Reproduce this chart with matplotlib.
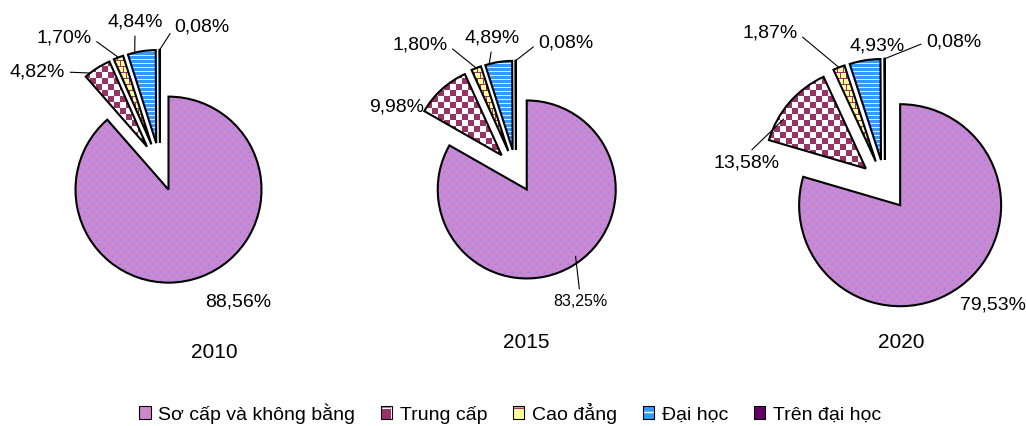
"""
Cơ cấu lao động theo trình độ chuyên môn: 2010 / 2015 / 2020.

Three exploded pies drawn on one pixel-sized axes, each wedge filled
with a small bitmap pattern (checker, brick, stripes...) clipped to it.

Output:
    out.png
"""

import matplotlib
matplotlib.use("Agg")
import matplotlib.pyplot as plt
import numpy as np
from matplotlib.patches import Patch

W, H = 1026, 426
FONT = ["Liberation Sans", "DejaVu Sans"]

categories = ["Sơ cấp và không bằng", "Trung cấp", "Cao đẳng", "Đại học", "Trên đại học"]
years = ["2010", "2015", "2020"]
share_2010 = [88.56, 4.82, 1.70, 4.84, 0.08]
share_2015 = [83.25, 9.98, 1.80, 4.89, 0.08]
share_2020 = [79.53, 13.58, 1.87, 4.93, 0.08]
shares = [share_2010, share_2015, share_2020]

# layout, in pixels measured from the top-left corner of the image
PIE_LAYOUT = [
    # centre x, centre y, radius, explode (fraction of radius)
    (160, 167, 93, 0.26),
    (516, 171, 89, 0.24),
    (885, 185, 101, 0.25),
]
YEAR_POS = [(214, 352), (526, 343), (901, 343)]

# (wedge index, text x, text y, fontsize, leader anchor or None)
# anchor = (fraction along the arc, fraction of radius, relpos on the text)
LABELS = [
    [
        (0, 238, 302, 14, None),
        (1, 37, 72, 14, (0.8, 1.0, (1.0, 0.5))),
        (2, 64, 38, 14, (0.5, 1.0, (1.0, 0.5))),
        (3, 135, 22, 14, (0.75, 1.0, (0.5, 0.0))),
        (4, 202, 27, 14, (0.5, 1.0, (0.0, 0.5))),
    ],
    [
        (0, 580, 302, 11.5, (0.52, 0.93, (0.5, 1.0))),
        (1, 397, 107, 14, None),
        (2, 420, 45, 14, (0.5, 1.0, (1.0, 0.5))),
        (3, 492, 38, 14, (0.85, 1.0, (0.5, 0.0))),
        (4, 566, 43, 14, (0.5, 1.0, (0.0, 0.5))),
    ],
    [
        (0, 993, 305, 14, None),
        (1, 747, 163, 14, (0.7, 0.95, (0.5, 1.0))),
        (2, 770, 33, 14, (0.5, 1.0, (1.0, 0.5))),
        (3, 877, 46, 14, None),
        (4, 954, 42, 14, (0.5, 1.0, (0.0, 0.5))),
    ],
]

MAROON = np.array([153, 51, 102], dtype=np.uint8)
WHITE = np.array([255, 255, 255], dtype=np.uint8)


def make_patterns():
    """Full-canvas bitmaps, one per category, so the texture lines up
    with screen pixels wherever the wedge ends up."""
    yy, xx = np.mgrid[0:H, 0:W]

    # pink/violet dither with blue diamond dots
    dither = ((xx + yy) % 2 == 0)[..., None]
    sc = np.where(dither, np.array([226, 136, 196], np.uint8),
                  np.array([184, 136, 214], np.uint8))
    a = (xx + yy) % 8
    b = (xx - yy) % 8
    dots = (np.minimum(a, 8 - a) <= 1) & (np.minimum(b, 8 - b) <= 1)
    sc[dots] = [140, 140, 255]

    # maroon / white checkerboard
    checker = ((xx // 6 + yy // 6) % 2 == 0)[..., None]
    tc = np.where(checker, MAROON, WHITE)

    # yellow brick
    cd = np.empty((H, W, 3), np.uint8)
    cd[:] = [255, 255, 153]
    brick = (yy % 6 == 0) | ((xx + 3 * ((yy // 6) % 2)) % 6 == 0)
    cd[brick] = MAROON

    # blue horizontal stripes
    dh = np.empty((H, W, 3), np.uint8)
    dh[:] = [51, 153, 255]
    dh[yy % 4 == 3] = [215, 235, 255]

    tdh = np.empty((H, W, 3), np.uint8)
    tdh[:] = [102, 0, 102]
    return [sc, tc, cd, dh, tdh]


def fmt(v):
    return f"{v:.2f}".replace(".", ",") + "%"


def arc_point(wedge, frac, rfrac):
    theta = np.deg2rad(wedge.theta1 + frac * (wedge.theta2 - wedge.theta1))
    cx, cy = wedge.center
    return cx + rfrac * wedge.r * np.cos(theta), cy + rfrac * wedge.r * np.sin(theta)


def main():
    plt.rcParams["font.family"] = FONT
    fig = plt.figure(figsize=(W / 100, H / 100), dpi=100)
    ax = fig.add_axes([0, 0, 1, 1])

    patterns = make_patterns()

    for values, (cx, cy, r, ex), labels in zip(shares, PIE_LAYOUT, LABELS):
        # pie's explode is an absolute offset in data units, not a
        # fraction of the radius -- scale it here
        wedges, _ = ax.pie(
            values, center=(cx, H - cy), radius=r, startangle=90,
            counterclock=False, explode=[ex * r] * len(values),
            wedgeprops=dict(facecolor="none", edgecolor="black",
                            linewidth=1.5, zorder=3),
        )
        for wedge, pat in zip(wedges, patterns):
            im = ax.imshow(pat, extent=(0, W, 0, H), origin="upper",
                           interpolation="nearest", zorder=1)
            im.set_clip_path(wedge)

        for idx, tx, ty, size, leader in labels:
            text = fmt(values[idx])
            if leader is None:
                ax.text(tx, H - ty, text, ha="center", va="center", fontsize=size)
                continue
            frac, rfrac, relpos = leader
            ax.annotate(
                text, xy=arc_point(wedges[idx], frac, rfrac), xytext=(tx, H - ty),
                ha="center", va="center", fontsize=size, zorder=4,
                arrowprops=dict(arrowstyle="-", color="black", lw=0.8,
                                shrinkA=2, shrinkB=0, relpos=relpos),
            )

    for year, (x, y) in zip(years, YEAR_POS):
        ax.text(x, H - y, year, ha="center", va="center", fontsize=15)

    # legend swatches: hatch approximations of the wedge textures
    border = dict(facecolor="none", edgecolor="black", linewidth=0.8)
    handles = [
        Patch(facecolor="#CC88CC", edgecolor="black", linewidth=0.8),
        (Patch(facecolor="#993366", edgecolor="white", hatch="+", linewidth=0), Patch(**border)),
        (Patch(facecolor="#FFFF99", edgecolor="#993366", hatch="+", linewidth=0), Patch(**border)),
        (Patch(facecolor="#3399FF", edgecolor="white", hatch="--", linewidth=0), Patch(**border)),
        Patch(facecolor="#660066", edgecolor="black", linewidth=0.8),
    ]
    ax.legend(handles, categories, loc="center", bbox_to_anchor=(510 / W, 1 - 413 / H),
              ncol=5, frameon=False, fontsize=14, handlelength=0.6, handleheight=0.6,
              handletextpad=0.4, columnspacing=1.3, borderpad=0)

    ax.set_xlim(0, W)
    ax.set_ylim(0, H)
    ax.set_aspect("equal")
    ax.set_axis_off()
    fig.savefig("out.png", dpi=100)


if __name__ == "__main__":
    main()
